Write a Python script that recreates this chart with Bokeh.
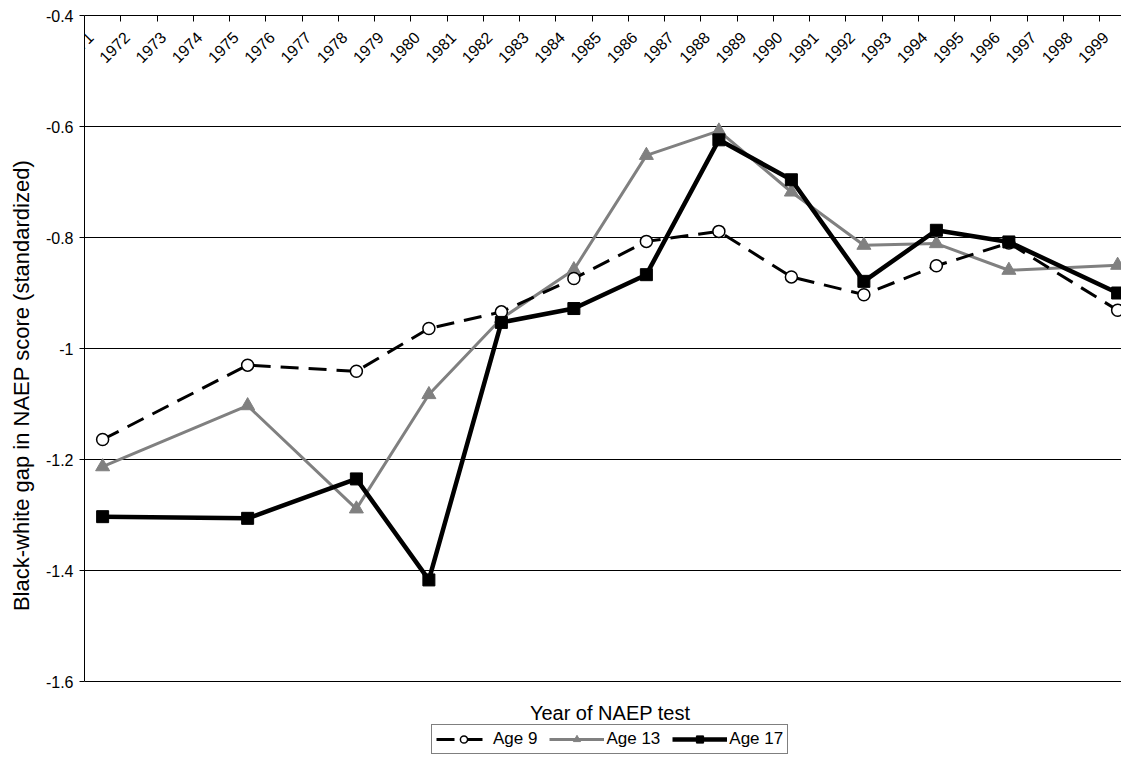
import math
from bokeh.plotting import figure
from bokeh.models import (Range1d, LinearAxis, FixedTicker, Legend, LegendItem,
                          ColumnDataSource, Label)
from bokeh.core.properties import value
from bokeh.embed import file_html
from bokeh.resources import INLINE

# ---- data ----
years = [1971, 1975, 1978, 1980, 1982, 1984, 1986, 1988, 1990, 1992, 1994, 1996, 1999]
age9 = [-1.164, -1.030, -1.041, -0.964, -0.934, -0.874, -0.807, -0.789, -0.871, -0.903, -0.851, -0.810, -0.931]
age13 = [-1.213, -1.103, -1.289, -1.083, -0.946, -0.858, -0.652, -0.608, -0.718, -0.814, -0.811, -0.859, -0.850]
age17 = [-1.303, -1.306, -1.235, -1.417, -0.953, -0.928, -0.867, -0.624, -0.696, -0.879, -0.787, -0.808, -0.900]

axis_years = list(range(1971, 2000))
axis_year_labels = [str(y) for y in axis_years]
y_ticks = [-1.6, -1.4, -1.2, -1.0, -0.8, -0.6, -0.4]
y_tick_labels = ["-1.6", "-1.4", "-1.2", "-1", "-0.8", "-0.6", "-0.4"]
y_min, y_max = -1.6, -0.4

FONT = "Liberation Sans"

W, H = 1121, 755
LEFT, TOP = 84, 15
PLOT_H = 666          # height of the -1.6 .. -0.4 band in pixels
PX_PER_YEAR = 36.25

frame_w = W - LEFT
frame_h = H - TOP
x_lo = 1970.5
x_hi = x_lo + frame_w / PX_PER_YEAR
y_lo = y_max - (y_max - y_min) * frame_h / PLOT_H

p = figure(width=W, height=H, output_backend="svg", toolbar_location=None,
           x_range=Range1d(x_lo, x_hi), y_range=Range1d(y_lo, y_max),
           min_border_left=LEFT, min_border_right=0, min_border_top=TOP, min_border_bottom=0)
p.outline_line_color = None
p.background_fill_color = "white"
p.border_fill_color = "white"

# no bottom axis (title is drawn as a label below the plot band)
p.below[0].visible = False

# left axis (ticks + labels)
ly = p.left[0]
ly.ticker = FixedTicker(ticks=y_ticks)
ly.bounds = (y_min, y_max)
ly.major_label_overrides = {t: s for t, s in zip(y_ticks, y_tick_labels)}
ly.axis_line_color = "black"
ly.major_tick_line_color = "black"
ly.major_tick_out = 5
ly.major_tick_in = 0
ly.minor_tick_line_color = None
ly.major_label_text_font = FONT
ly.major_label_text_font_size = "16px"
ly.major_label_text_color = "black"
ly.major_label_standoff = 6

# second left axis only for the title
ytitle = LinearAxis(ticker=FixedTicker(ticks=[]))
ytitle.axis_line_color = None
ytitle.major_tick_line_color = None
ytitle.minor_tick_line_color = None
ytitle.major_tick_out = 0
ytitle.major_label_standoff = 0
ytitle.axis_label = "Black-white gap in NAEP score (standardized)"
ytitle.axis_label_text_font = FONT
ytitle.axis_label_text_font_size = "22px"
ytitle.axis_label_text_font_style = "normal"
ytitle.axis_label_text_color = "black"
ytitle.axis_label_standoff = 9
p.add_layout(ytitle, "left")

# grid
p.xgrid.visible = False
p.ygrid.ticker = FixedTicker(ticks=y_ticks)
p.ygrid.grid_line_color = "black"
p.ygrid.grid_line_width = 1

# top category axis line with boundary ticks pointing into the plot
boundaries = [y - 0.5 for y in axis_years[1:]]
top = LinearAxis(ticker=FixedTicker(ticks=[], minor_ticks=boundaries))
top.major_tick_line_color = None
top.major_tick_out = 0
top.major_label_standoff = 0
top.minor_tick_line_color = "black"
top.minor_tick_in = 6
top.minor_tick_out = 0
top.axis_line_color = "black"
p.add_layout(top, "above")

# year labels hanging below the top axis (inside the plot)
lab_src = ColumnDataSource(dict(x=axis_years, y=[y_max] * len(axis_years), text=axis_year_labels))
p.text(x="x", y="y", text="text", source=lab_src, angle=math.pi / 4,
       text_align="right", text_baseline="middle", x_offset=-12, y_offset=19,
       text_font=value(FONT), text_font_size="16px", text_color="black")

# series
l13 = p.line(years, age13, line_color="#808080", line_width=3)
m13 = p.scatter(years, age13, marker="triangle", size=14, fill_color="#808080", line_color="#808080")
l9 = p.line(years, age9, line_color="black", line_width=3, line_dash="18 10")
m9 = p.scatter(years, age9, marker="circle", size=12, fill_color="white", line_color="black", line_width=1.5)
l17 = p.line(years, age17, line_color="black", line_width=4.5)
m17 = p.scatter(years, age17, marker="square", size=12, fill_color="black", line_color="black")

# x-axis title
p.add_layout(Label(x=1985, y=y_min, y_offset=-31, text="Year of NAEP test",
                   text_align="center", text_baseline="middle",
                   text_font=FONT, text_font_size="20px", text_color="black"))

legend = Legend(items=[LegendItem(label="Age 9", renderers=[l9, m9]),
                       LegendItem(label="Age 13", renderers=[l13, m13]),
                       LegendItem(label="Age 17", renderers=[l17, m17])],
                orientation="horizontal", location=(347, 1))
legend.label_text_font = FONT
legend.label_text_font_size = "17px"
legend.label_text_color = "black"
legend.glyph_width = 55
legend.glyph_height = 18
legend.label_height = 18
legend.label_standoff = 2
legend.spacing = 12
legend.padding = 4
legend.margin = 0
legend.border_line_color = "black"
legend.border_line_width = 1
legend.background_fill_color = "white"
p.add_layout(legend, "center")

open("out.html", "w").write(file_html(p, INLINE))
